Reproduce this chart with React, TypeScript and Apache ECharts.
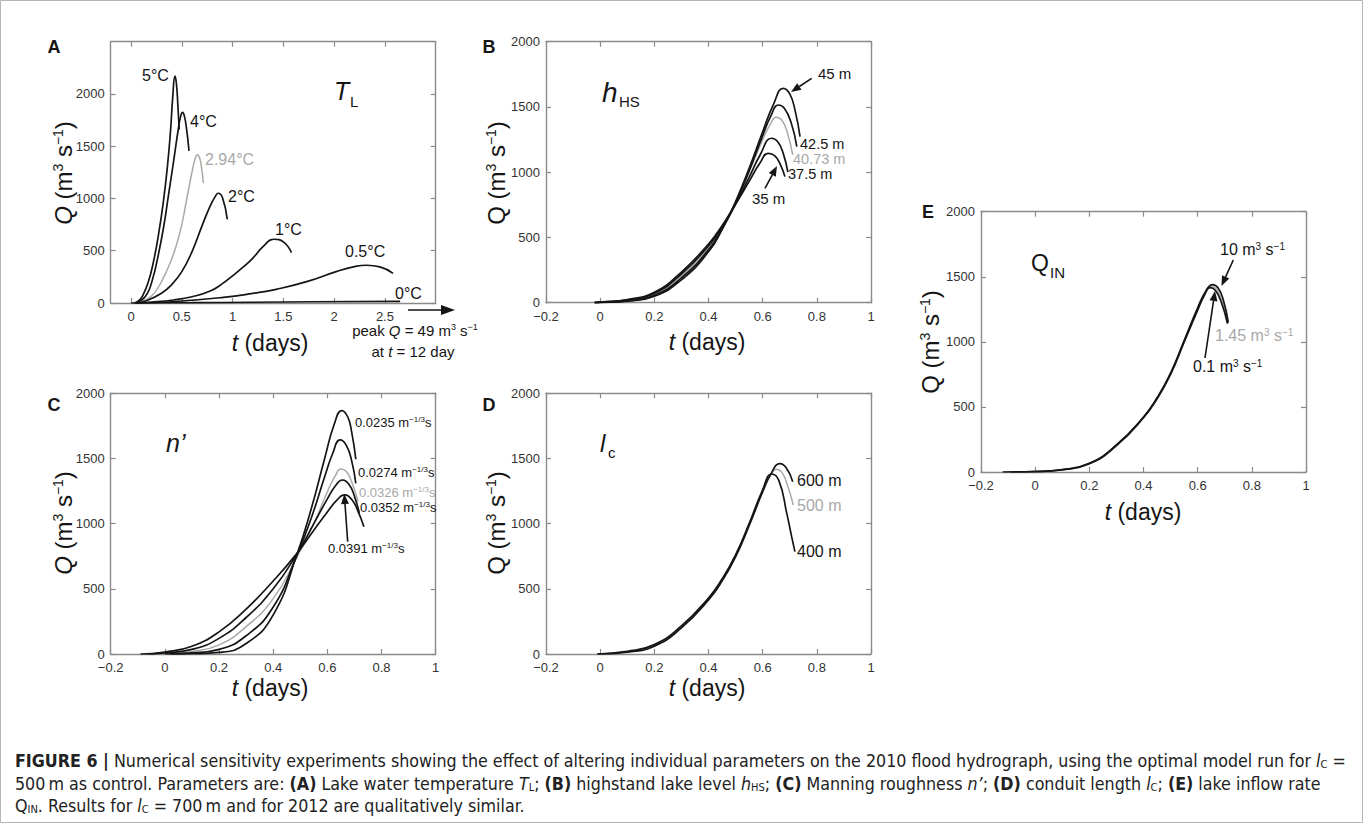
import React, { useEffect, useRef } from 'react';
import * as echarts from 'echarts';

const FONT = '"Liberation Sans", Arial, Helvetica, sans-serif';
const CAP_FONT = '"Liberation Sans Narrow", "DejaVu Sans Condensed", "Liberation Sans", sans-serif';
const BLACK = '#151515';
const GRAY = '#a9a9a9';
const AXIS = '#8a8a8a';

// ---------- tick values ----------
const xTicksA = [0, 0.5, 1, 1.5, 2, 2.5];
const xTicksBE = [-0.2, 0, 0.2, 0.4, 0.6, 0.8, 1];
const yTicks = [0, 500, 1000, 1500, 2000];

// ---------- Panel A: lake temperature T_L ----------
const a5C = [[0.03,0],[0.08,25],[0.12,80],[0.17,200],[0.22,390],[0.27,650],[0.32,980],[0.36,1320],[0.39,1660],[0.41,1960],[0.433,2170],[0.448,2090],[0.462,1880],[0.475,1660]];
const a4C = [[0.04,0],[0.1,25],[0.16,90],[0.21,220],[0.26,420],[0.32,720],[0.37,1040],[0.42,1360],[0.465,1660],[0.49,1790],[0.508,1823],[0.525,1790],[0.545,1680],[0.571,1456]];
const a294C = [[0.05,0],[0.1,18],[0.2,65],[0.3,205],[0.4,420],[0.45,565],[0.5,750],[0.55,1000],[0.6,1250],[0.63,1375],[0.653,1418],[0.675,1390],[0.695,1290],[0.712,1146]];
const a2C = [[0.05,0],[0.15,22],[0.3,93],[0.4,175],[0.5,300],[0.6,490],[0.7,740],[0.78,930],[0.83,1020],[0.858,1050],[0.9,1010],[0.948,800]];
const a1C = [[0.05,0],[0.2,8],[0.42,29],[0.6,60],[0.78,115],[0.9,185],[1.0,260],[1.1,340],[1.2,430],[1.3,540],[1.41,610],[1.5,585],[1.58,482]];
const a05C = [[0.05,0],[0.4,12],[0.91,54],[1.2,92],[1.43,131],[1.73,204],[2.02,300],[2.2,348],[2.32,361],[2.45,345],[2.58,284]];
const a0C = [[0,0],[0.6,3],[1.2,7],[1.8,12],[2.65,16]];

// ---------- Panel B: highstand lake level h_HS ----------
const b45 = [[-0.02,0],[0,2],[0.1,12],[0.2,50],[0.3,175],[0.4,390],[0.45,560],[0.5,775],[0.55,1030],[0.6,1310],[0.64,1520],[0.676,1643],[0.7,1600],[0.72,1470],[0.738,1272]];
const b425 = [[-0.02,0],[0,2],[0.1,14],[0.2,56],[0.3,190],[0.4,405],[0.45,565],[0.5,765],[0.55,1010],[0.6,1280],[0.63,1430],[0.658,1515],[0.68,1490],[0.705,1380],[0.726,1196]];
const b4073 = [[-0.02,0],[0,3],[0.1,17],[0.2,63],[0.3,203],[0.4,418],[0.45,565],[0.5,752],[0.55,1000],[0.6,1250],[0.63,1375],[0.649,1421],[0.67,1400],[0.69,1310],[0.711,1132]];
const b375 = [[-0.02,0],[0,3],[0.1,20],[0.2,72],[0.3,220],[0.4,435],[0.45,580],[0.5,755],[0.55,960],[0.59,1130],[0.633,1260],[0.655,1235],[0.675,1150],[0.693,1000]];
const b35 = [[-0.02,0],[0,4],[0.1,24],[0.2,80],[0.3,235],[0.4,450],[0.45,590],[0.5,755],[0.55,930],[0.59,1070],[0.621,1145],[0.645,1125],[0.665,1060],[0.682,966]];

// ---------- Panel C: Manning roughness n' ----------
const c0235 = [[0.02,0],[0.1,2],[0.2,12],[0.3,80],[0.4,300],[0.487,760],[0.54,1110],[0.59,1500],[0.625,1760],[0.653,1867],[0.675,1820],[0.69,1700],[0.705,1494]];
const c0274 = [[0,0],[0.1,8],[0.2,35],[0.3,140],[0.4,360],[0.487,755],[0.54,1040],[0.59,1360],[0.62,1540],[0.647,1642],[0.67,1600],[0.69,1480],[0.705,1309]];
const c0326 = [[-0.04,0],[0,4],[0.1,20],[0.2,70],[0.3,210],[0.4,425],[0.487,740],[0.55,1000],[0.6,1245],[0.63,1370],[0.649,1419],[0.67,1400],[0.69,1320],[0.713,1170]];
const c0352 = [[-0.06,0],[0,8],[0.1,35],[0.2,120],[0.3,280],[0.4,500],[0.487,765],[0.55,1000],[0.6,1190],[0.63,1290],[0.655,1335],[0.68,1300],[0.7,1210],[0.718,1080]];
const c0391 = [[-0.09,0],[0,15],[0.1,60],[0.2,170],[0.3,345],[0.4,560],[0.487,770],[0.55,950],[0.6,1090],[0.635,1180],[0.663,1220],[0.69,1185],[0.712,1100],[0.735,977]];

// ---------- Panel D: conduit length l_c ----------
const d600 = [[-0.01,0],[0.1,15],[0.2,60],[0.3,200],[0.4,415],[0.45,560],[0.5,745],[0.55,985],[0.6,1245],[0.63,1380],[0.664,1460],[0.688,1425],[0.711,1322]];
const d500 = [[-0.01,0],[0.1,17],[0.2,65],[0.3,205],[0.4,420],[0.45,565],[0.5,750],[0.55,995],[0.6,1245],[0.63,1372],[0.649,1417],[0.67,1395],[0.69,1305],[0.713,1143]];
const d400 = [[-0.01,0],[0.1,20],[0.2,72],[0.3,215],[0.4,430],[0.45,575],[0.5,760],[0.55,1000],[0.6,1260],[0.633,1381],[0.66,1330],[0.689,1079],[0.707,900],[0.719,785]];

// ---------- Panel E: lake inflow Q_IN ----------
const e10 = [[-0.12,0],[0,4],[0.1,19],[0.2,67],[0.3,208],[0.4,423],[0.45,570],[0.5,760],[0.55,1010],[0.6,1262],[0.63,1390],[0.655,1440],[0.675,1415],[0.695,1320],[0.713,1150]];
const e145 = [[-0.1,0],[0,3],[0.1,18],[0.2,65],[0.3,205],[0.4,420],[0.45,565],[0.5,755],[0.55,1005],[0.6,1252],[0.63,1378],[0.65,1428],[0.67,1403],[0.69,1310],[0.713,1145]];
const e01 = [[-0.09,0],[0,3],[0.1,17],[0.2,63],[0.3,202],[0.4,417],[0.45,562],[0.5,750],[0.55,998],[0.6,1244],[0.625,1360],[0.645,1416],[0.665,1397],[0.688,1300],[0.71,1140]];

// ---------- layout ----------
const grids = [
  { left: 110.7, top: 41.7, width: 325, height: 261.3 },
  { left: 546, top: 41.7, width: 325, height: 261 },
  { left: 110.7, top: 393.3, width: 325, height: 260.7 },
  { left: 546, top: 393.3, width: 325, height: 260.7 },
  { left: 981, top: 211.7, width: 325, height: 260.3 },
];
const ranges = [
  { xmin: -0.2, xmax: 3, ymax: 2500, xt: xTicksA },
  { xmin: -0.2, xmax: 1, ymax: 2000, xt: xTicksBE },
  { xmin: -0.2, xmax: 1, ymax: 2000, xt: xTicksBE },
  { xmin: -0.2, xmax: 1, ymax: 2000, xt: xTicksBE },
  { xmin: -0.2, xmax: 1, ymax: 2000, xt: xTicksBE },
];

function fmtTick(v: number) {
  const r = Math.round(v * 1000) / 1000;
  return r < 0 ? '\u2212' + String(-r) : String(r);
}

const xAxes: any[] = [];
const yAxes: any[] = [];
ranges.forEach((r, i) => {
  const al = { show: true, onZero: false, lineStyle: { color: AXIS, width: 1.4 } };
  const tk = (vals: number[]) => ({ show: true, inside: true, length: 5, customValues: vals, lineStyle: { color: AXIS, width: 1.2 } });
  const lab = { fontFamily: FONT, fontSize: 13, color: '#333' };
  xAxes.push({ type: 'value', gridIndex: i, position: 'bottom', min: r.xmin, max: r.xmax, axisLine: al, axisTick: tk(r.xt), axisLabel: { ...lab, customValues: r.xt, formatter: fmtTick, margin: 7 }, splitLine: { show: false } });
  xAxes.push({ type: 'value', gridIndex: i, position: 'top', min: r.xmin, max: r.xmax, axisLine: al, axisTick: tk(r.xt), axisLabel: { show: false }, splitLine: { show: false } });
  yAxes.push({ type: 'value', gridIndex: i, position: 'left', min: 0, max: r.ymax, axisLine: al, axisTick: tk(yTicks), axisLabel: { ...lab, customValues: yTicks, formatter: fmtTick, margin: 6 }, splitLine: { show: false } });
  yAxes.push({ type: 'value', gridIndex: i, position: 'right', min: 0, max: r.ymax, axisLine: al, axisTick: tk(yTicks), axisLabel: { show: false }, splitLine: { show: false } });
});

const panelSeries: { p: number; data: number[][]; gray?: boolean }[] = [
  { p: 0, data: a0C }, { p: 0, data: a05C }, { p: 0, data: a1C }, { p: 0, data: a2C }, { p: 0, data: a294C, gray: true }, { p: 0, data: a4C }, { p: 0, data: a5C },
  { p: 1, data: b4073, gray: true }, { p: 1, data: b45 }, { p: 1, data: b425 }, { p: 1, data: b375 }, { p: 1, data: b35 },
  { p: 2, data: c0326, gray: true }, { p: 2, data: c0235 }, { p: 2, data: c0274 }, { p: 2, data: c0352 }, { p: 2, data: c0391 },
  { p: 3, data: d500, gray: true }, { p: 3, data: d600 }, { p: 3, data: d400 },
  { p: 4, data: e10 }, { p: 4, data: e01 }, { p: 4, data: e145, gray: true },
];

const series = panelSeries.map((s) => ({
  type: 'line',
  xAxisIndex: s.p * 2,
  yAxisIndex: s.p * 2,
  data: s.data,
  symbol: 'none',
  showSymbol: false,
  smooth: 0.5,
  silent: true,
  z: s.gray ? 2 : 3,
  lineStyle: { color: s.gray ? GRAY : BLACK, width: s.gray ? 1.5 : 1.7 },
  itemStyle: { color: s.gray ? GRAY : BLACK },
}));

// ---------- graphic helpers ----------
function R(size: number, color = BLACK, font = FONT) {
  const base = { fontFamily: font, fill: color };
  const small = Math.round(size * 0.6);
  return {
    n: { ...base, fontSize: size },
    i: { ...base, fontSize: size, fontStyle: 'italic' },
    b: { ...base, fontSize: size, fontWeight: 'bold' },
    sup: { ...base, fontSize: small, verticalAlign: 'top' },
    sub: { ...base, fontSize: small, verticalAlign: 'bottom' },
  };
}
function T(x: number, y: number, text: string, o: any = {}) {
  return {
    type: 'text', x, y, silent: true, rotation: o.rotation || 0, z: 10,
    style: {
      text, fontFamily: o.font || FONT, fontSize: o.size || 16,
      fontStyle: o.italic ? 'italic' : 'normal', fontWeight: o.bold ? 'bold' : 'normal',
      fill: o.color || BLACK, align: o.align || 'left', verticalAlign: o.va || 'middle',
      rich: o.rich,
    },
  };
}
function arrow(x1: number, y1: number, x2: number, y2: number, L = 10, W = 4) {
  const ang = Math.atan2(y2 - y1, x2 - x1);
  const bx = x2 - L * Math.cos(ang), by = y2 - L * Math.sin(ang);
  const px = -Math.sin(ang) * W, py = Math.cos(ang) * W;
  return [
    { type: 'line', silent: true, z: 10, shape: { x1, y1, x2: bx, y2: by }, style: { stroke: BLACK, lineWidth: 1.6 } },
    { type: 'polygon', silent: true, z: 10, shape: { points: [[x2, y2], [bx + px, by + py], [bx - px, by - py]] }, style: { fill: BLACK } },
  ];
}

const yNameItalic = '{i|Q}{n| (m}{sup|3}{n| s}{sup|\u22121}{n|)}';
const yNameUpright = '{n|Q (m}{sup|3}{n| s}{sup|\u22121}{n|)}';
const xName = '{i|t}{n| (days)}';
const r24 = R(24);
const r23 = R(23);
const m3s = (v: string) => `{n|${v} m}{sup|3}{n| s}{sup|\u22121}`;
const capRich = R(17.7, '#222', CAP_FONT);

const graphics: any[] = [
  { type: 'rect', silent: true, z: 0, shape: { x: 0.5, y: 0.5, width: 1362, height: 822 }, style: { fill: 'none', stroke: '#b5b5b5', lineWidth: 1 } },
  // panel letters
  T(54, 47, 'A', { bold: true, size: 18, align: 'center' }),
  T(489, 47, 'B', { bold: true, size: 18, align: 'center' }),
  T(54, 405, 'C', { bold: true, size: 18, align: 'center' }),
  T(489, 405, 'D', { bold: true, size: 18, align: 'center' }),
  T(928, 212, 'E', { bold: true, size: 18, align: 'center' }),
  // axis names
  T(63, 173, yNameItalic, { rotation: Math.PI / 2, align: 'center', rich: r24 }),
  T(496, 173, yNameUpright, { rotation: Math.PI / 2, align: 'center', rich: r24 }),
  T(63, 523, yNameItalic, { rotation: Math.PI / 2, align: 'center', rich: r24 }),
  T(496, 523, yNameUpright, { rotation: Math.PI / 2, align: 'center', rich: r24 }),
  T(930, 342, yNameUpright, { rotation: Math.PI / 2, align: 'center', rich: r24 }),
  T(270, 343, xName, { align: 'center', rich: r23 }),
  T(707, 342, xName, { align: 'center', rich: r23 }),
  T(270, 688, xName, { align: 'center', rich: r23 }),
  T(707, 688, xName, { align: 'center', rich: r23 }),
  T(1143, 512, xName, { align: 'center', rich: r23 }),
  // panel titles
  T(334, 91, 'T', { italic: true, size: 25 }),
  T(350, 101, 'L', { size: 15 }),
  T(602, 92, 'h', { italic: true, size: 28 }),
  T(619, 101, 'HS', { size: 15 }),
  T(166, 443, 'n\u2019', { italic: true, size: 25 }),
  T(600, 443, 'l', { italic: true, size: 24 }),
  T(608, 452, 'c', { size: 15 }),
  T(1031, 263, 'Q', { size: 23 }),
  T(1050, 272, 'IN', { size: 15 }),
  // Panel A annotations
  T(142, 75, '5\u00b0C', { size: 16 }),
  T(190, 121, '4\u00b0C', { size: 16 }),
  T(205, 159, '2.94\u00b0C', { size: 16, color: GRAY }),
  T(228, 196, '2\u00b0C', { size: 16 }),
  T(275, 229, '1\u00b0C', { size: 16 }),
  T(345, 251, '0.5\u00b0C', { size: 16 }),
  T(395, 293, '0\u00b0C', { size: 16 }),
  ...arrow(408, 310, 455, 310, 14, 5),
  T(415, 330, '{n|peak }{i|Q}{n| = 49 m}{sup|3}{n| s}{sup|\u22121}', { align: 'center', rich: R(15) }),
  T(413, 351, '{n|at }{i|t}{n| = 12 day}', { align: 'center', rich: R(15) }),
  // Panel B annotations
  T(818, 73, '45 m', { size: 15 }),
  ...arrow(811.7, 78.3, 791, 92),
  T(800, 144, '42.5 m', { size: 14.5 }),
  T(793, 159, '40.73 m', { size: 14.5, color: GRAY }),
  T(788, 174, '37.5 m', { size: 14.5 }),
  T(752, 198, '35 m', { size: 15 }),
  ...arrow(765, 188.3, 777, 166),
  // Panel C annotations
  T(355, 422, '{n|0.0235 m}{sup|\u22121/3}{n|s}', { rich: R(13) }),
  T(358, 472, '{n|0.0274 m}{sup|\u22121/3}{n|s}', { rich: R(13) }),
  T(359, 492, '{n|0.0326 m}{sup|\u22121/3}{n|s}', { rich: R(13, GRAY) }),
  T(360, 507, '{n|0.0352 m}{sup|\u22121/3}{n|s}', { rich: R(13) }),
  T(328, 548, '{n|0.0391 m}{sup|\u22121/3}{n|s}', { rich: R(13) }),
  ...arrow(347.7, 541.7, 344.3, 494),
  // Panel D annotations
  T(797, 480, '600 m', { size: 16 }),
  T(797, 505, '500 m', { size: 16, color: GRAY }),
  T(797, 551, '400 m', { size: 16 }),
  // Panel E annotations
  T(1220, 249, m3s('10'), { rich: R(16) }),
  ...arrow(1233.3, 260, 1221.5, 286),
  T(1215, 335, m3s('1.45'), { rich: R(16, GRAY) }),
  T(1193, 366, m3s('0.1'), { rich: R(16) }),
  ...arrow(1205, 358, 1215, 291),
  // caption
  T(15, 761, '{b|FIGURE 6 |}{n| Numerical sensitivity experiments showing the effect of altering individual parameters on the 2010 flood hydrograph, using the optimal model run for }{i|l}{sub|C}{n| =}', { rich: capRich, font: CAP_FONT, size: 17.7 }),
  T(15, 784, '{n|500\u2009m as control. Parameters are: }{b|(A)}{n| Lake water temperature }{i|T}{sub|L}{n|; }{b|(B)}{n| highstand lake level }{i|h}{sub|HS}{n|; }{b|(C)}{n| Manning roughness }{i|n\u2019}{n|; }{b|(D)}{n| conduit length }{i|l}{sub|C}{n|; }{b|(E)}{n| lake inflow rate}', { rich: capRich, font: CAP_FONT, size: 17.7 }),
  T(15, 806, '{n|Q}{sub|IN}{n|. Results for }{i|l}{sub|C}{n| = 700\u2009m and for 2012 are qualitatively similar.}', { rich: capRich, font: CAP_FONT, size: 17.7 }),
];

const option: any = {
  animation: false,
  backgroundColor: '#ffffff',
  grid: grids.map((g) => ({ ...g, containLabel: false })),
  xAxis: xAxes,
  yAxis: yAxes,
  series,
  graphic: graphics,
};

export default function App() {
  const ref = useRef<HTMLDivElement>(null);
  useEffect(() => {
    const chart = echarts.init(ref.current as HTMLDivElement, null, { renderer: 'svg', width: 1363, height: 823 });
    chart.setOption(option);
    return () => chart.dispose();
  }, []);
  return <div ref={ref} style={{ position: 'absolute', left: 0, top: 0, width: 1363, height: 823, background: '#fff' }} />;
}
